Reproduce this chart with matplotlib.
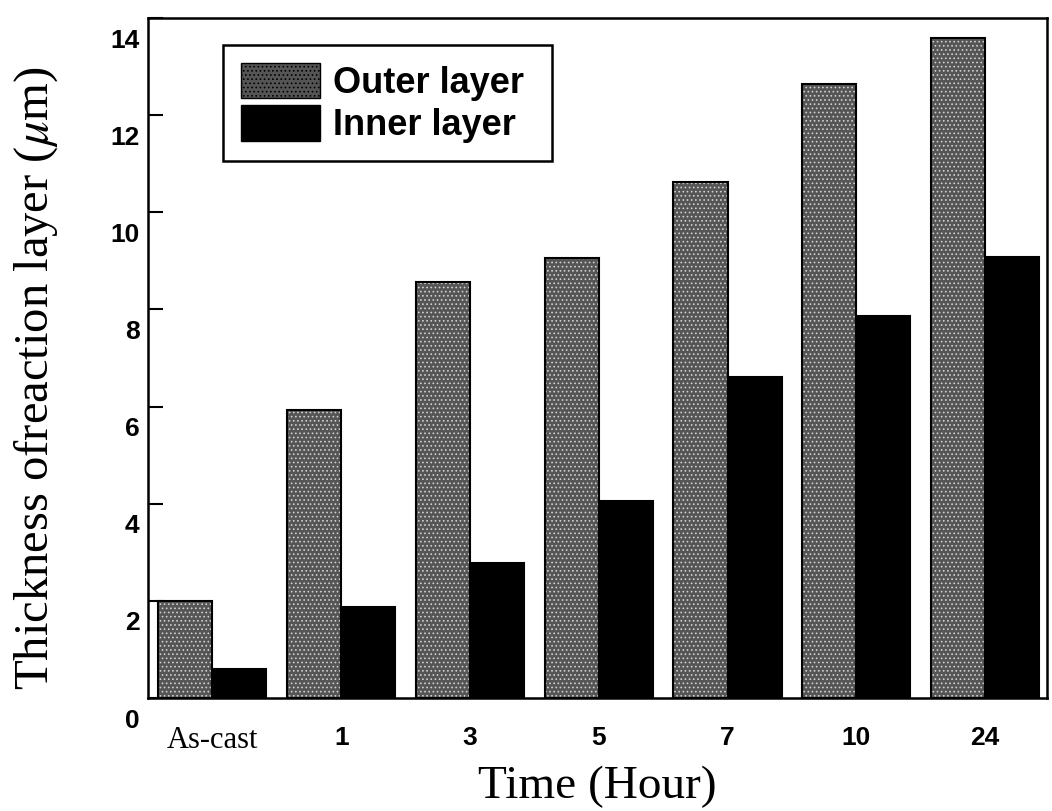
import numpy as np
import matplotlib.pyplot as plt
import matplotlib.transforms as mtransforms
from matplotlib.patches import Patch

times = ["As-cast", "1", "3", "5", "7", "10", "24"]
outer_layer = [2.0, 5.93, 8.56, 9.05, 10.62, 12.65, 13.58]
inner_layer = [0.6, 1.87, 2.78, 4.05, 6.6, 7.86, 9.07]
yticks = [0, 2, 4, 6, 8, 10, 12, 14]

plt.rcParams['mathtext.fontset'] = 'stix'
plt.rcParams['hatch.linewidth'] = 0.7
plt.rcParams['hatch.color'] = '#d0d0d0'

fig = plt.figure(figsize=(10.52, 8.11), dpi=100)
ax = fig.add_axes([148/1052, 1-698/811, 899/1052, 680/811])

x = np.arange(len(times))
w = 0.42
grey = '#555555'

# stippled grey bars: grey fill with light hatch, then black outline
ax.bar(x - w/2, outer_layer, w, color=grey, hatch='....', linewidth=0, zorder=2)
ax.bar(x - w/2, outer_layer, w, facecolor='none', edgecolor='black', linewidth=1.5, zorder=3)
ax.bar(x + w/2, inner_layer, w, color='black', edgecolor='black', linewidth=1.5, zorder=3)

h_outer = Patch(facecolor=grey, hatch='....', edgecolor='black', linewidth=1.0)
h_inner = Patch(facecolor='black', edgecolor='black')
leg = ax.legend([h_outer, h_inner], ['Outer layer ', 'Inner layer '],
                loc='upper left', bbox_to_anchor=(0.083, 0.961), borderaxespad=0,
                fancybox=False, edgecolor='black', framealpha=1,
                prop={'family': 'Liberation Sans', 'weight': 'bold', 'size': 26},
                handlelength=2.2, handleheight=1.15, handletextpad=0.35,
                labelspacing=0.12, borderpad=0.5)
leg.get_frame().set_linewidth(1.8)

ax.set_xlim(-0.5, 6.48)
ax.set_ylim(0, 14)
ax.set_yticks(yticks)
ax.set_yticklabels([str(v) for v in yticks], fontfamily='Liberation Sans',
                   fontweight='bold', fontsize=19)
ax.tick_params(axis='y', direction='in', length=11, width=1.5, pad=6)
ax.tick_params(axis='x', length=0, pad=20)
ax.set_xticks(x)
ax.set_xticklabels(times, fontfamily='Liberation Sans', fontweight='bold', fontsize=19)
first = ax.get_xticklabels()[0]
first.set_fontfamily('Liberation Serif')
first.set_fontweight('normal')
first.set_fontsize(22)

# y tick labels sit a little below their ticks in the original
off = mtransforms.ScaledTranslation(0, -0.2, fig.dpi_scale_trans)
for lab in ax.get_yticklabels():
    lab.set_transform(lab.get_transform() + off)

for s in ax.spines.values():
    s.set_linewidth(1.8)

ax.set_ylabel(r'Thickness ofreaction layer ($\mu$m)', fontfamily='Liberation Serif',
              fontsize=35)
ax.yaxis.set_label_coords(-0.098, 0.47)
ax.set_xlabel('Time (Hour)', fontfamily='Liberation Serif', fontsize=34, labelpad=8)

fig.savefig('out.png', dpi=100)
